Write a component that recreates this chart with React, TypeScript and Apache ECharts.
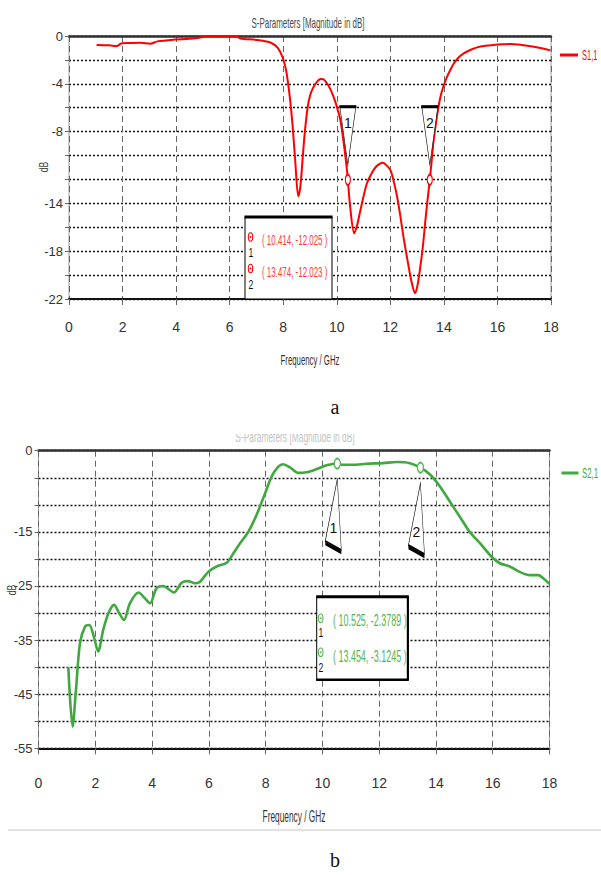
import React, { useEffect, useRef } from 'react';
import * as echarts from 'echarts';

// ---------- data ----------
const s11Freq = [1.03, 1.5, 1.78, 1.97, 2.3, 2.67, 3.04, 3.3, 3.93, 4.4, 4.8, 5.17, 5.8, 6.29, 6.4, 7.05, 7.54, 7.79, 7.98, 8.1, 8.16, 8.25, 8.35, 8.45, 8.56, 8.64, 8.72, 8.8, 8.91, 9.0, 9.1, 9.25, 9.4, 9.5, 9.63, 9.75, 9.88, 10.0, 10.13, 10.25, 10.38, 10.414, 10.5, 10.65, 10.75, 10.88, 11.0, 11.13, 11.3, 11.44, 11.6, 11.72, 11.85, 12.0, 12.12, 12.25, 12.37, 12.49, 12.62, 12.75, 12.85, 12.93, 13.02, 13.12, 13.22, 13.31, 13.4, 13.474, 13.55, 13.62, 13.75, 13.87, 14.0, 14.12, 14.25, 14.37, 14.55, 14.74, 15.0, 15.24, 15.55, 15.86, 16.2, 16.49, 16.9, 17.36, 17.7, 17.98];
const s11Db = [-0.75, -0.78, -0.84, -0.61, -0.58, -0.56, -0.64, -0.45, -0.3, -0.25, -0.17, -0.03, -0.03, -0.07, -0.2, -0.34, -0.56, -0.98, -1.8, -2.8, -3.6, -5.2, -7.5, -10.5, -13.4, -12.6, -10.4, -8.2, -6.0, -5.0, -4.4, -3.85, -3.6, -3.62, -3.95, -4.4, -5.1, -5.9, -7.0, -8.8, -11.2, -12.025, -14.3, -16.5, -15.9, -14.6, -13.4, -12.3, -11.5, -11.0, -10.7, -10.6, -10.8, -11.2, -12.1, -13.4, -15.0, -16.8, -18.5, -20.1, -21.1, -21.5, -20.8, -19.3, -17.5, -15.4, -13.5, -12.023, -10.3, -8.7, -6.6, -5.1, -4.1, -3.4, -2.8, -2.3, -1.8, -1.45, -1.15, -0.95, -0.82, -0.75, -0.7, -0.67, -0.75, -0.9, -1.05, -1.2];

const s21Freq = [1.05, 1.2, 1.32, 1.46, 1.64, 1.79, 1.95, 2.1, 2.28, 2.46, 2.66, 2.85, 3.01, 3.22, 3.52, 3.75, 3.93, 4.16, 4.4, 4.61, 4.77, 5.04, 5.27, 5.51, 5.69, 5.98, 6.27, 6.63, 6.86, 7.1, 7.39, 7.68, 7.98, 8.21, 8.44, 8.62, 8.86, 9.15, 9.44, 9.8, 10.15, 10.525, 10.73, 11.08, 11.56, 12.14, 12.61, 13.08, 13.454, 13.79, 14.14, 14.49, 14.84, 15.19, 15.55, 15.96, 16.25, 16.6, 16.95, 17.31, 17.6, 17.83, 17.99];
const s21Db = [-40.0, -51.0, -44.2, -35.6, -32.5, -32.2, -34.4, -37.1, -33.1, -30.1, -28.5, -30.1, -31.3, -28.2, -26.2, -27.3, -28.2, -25.4, -25.0, -25.7, -26.2, -24.4, -24.1, -24.5, -24.2, -22.4, -21.4, -20.7, -19.0, -17.1, -15.0, -11.9, -7.9, -4.8, -3.0, -2.5, -3.1, -4.1, -4.0, -3.4, -2.7, -2.3789, -2.6, -2.6, -2.4, -2.3, -2.1, -2.3, -3.1245, -4.4, -6.6, -9.4, -12.2, -15.0, -17.1, -19.6, -20.8, -21.4, -22.4, -23.0, -23.0, -23.8, -24.6];

const s11Markers = [
  { id: '1', f: 10.414, db: -12.025 },
  { id: '2', f: 13.474, db: -12.023 },
];
const s21Markers = [
  { id: '1', f: 10.525, db: -2.3789 },
  { id: '2', f: 13.454, db: -3.1245 },
];

const s11YLabels = [0, -4, -8, -14, -18, -22];
const s21YLabels = [0, -15, -25, -35, -45, -55];

const titleText = 'S-Parameters [Magnitude in dB]';
const xName = 'Frequency / GHz';
const yName = 'dB';
const s11Name = 'S1,1';
const s21Name = 'S2,1';

// ---------- styles ----------
const FONT = "'Liberation Sans', Arial, sans-serif";
const RED = '#ff0000';
const RED_TXT = '#ff3a3a';
const GREEN = '#3fa83f';
const GREEN_TXT = '#55b455';

function fmtMarker(m: { f: number; db: number }) {
  return `( ${m.f}, ${m.db} )`;
}

function buildOption() {
  const xAxisCommon = (grid: number, margin: number) => ({
    gridIndex: grid,
    type: 'value',
    min: 0,
    max: 18,
    interval: 2,
    position: 'bottom',
    axisLine: { show: true, onZero: false, lineStyle: { color: '#111', width: 2 } },
    axisTick: { show: true, length: 6, lineStyle: { color: '#666' } },
    axisLabel: { margin, fontSize: 14, color: '#333', fontFamily: FONT },
    splitLine: { show: true, lineStyle: { type: [6, 4], color: '#666', width: 1 } },
  });
  const topBorder = (grid: number) => ({
    gridIndex: grid,
    type: 'value',
    min: 0,
    max: 18,
    position: 'top',
    axisLine: { show: true, onZero: false, lineStyle: { color: '#333', width: 2.5 } },
    axisTick: { show: false },
    axisLabel: { show: false },
    splitLine: { show: false },
  });
  const yAxisCommon = (grid: number, min: number, interval: number, labels: number[]) => ({
    gridIndex: grid,
    type: 'value',
    min,
    max: 0,
    interval,
    axisLine: { show: false },
    axisTick: { show: true, length: 4, lineStyle: { color: '#666' } },
    axisLabel: {
      margin: 6,
      fontSize: 13,
      color: '#333',
      fontFamily: FONT,
      formatter: (v: number) => (labels.includes(Math.round(v)) ? String(Math.round(v)) : ''),
    },
    splitLine: { show: true, lineStyle: { type: [2, 2], color: '#111', width: 1.4 } },
  });

  const topMarkData: any[] = [];
  s11Markers.forEach((m) => {
    topMarkData.push({
      coord: [m.f, m.db],
      symbol: 'path://M0,0L16,0L8,58Z',
      symbolSize: [16, 58],
      symbolOffset: [0, -44],
      itemStyle: { color: '#fff', borderColor: '#000', borderWidth: 1 },
      label: { show: true, formatter: m.id, position: 'inside', offset: [0, -13], color: '#111', fontSize: 14, fontFamily: FONT },
    });
    topMarkData.push({
      coord: [m.f, m.db],
      symbol: 'rect',
      symbolSize: [17, 3],
      symbolOffset: [0, -73],
      itemStyle: { color: '#000' },
      label: { show: false },
    });
    topMarkData.push({
      coord: [m.f, m.db],
      symbol: 'circle',
      symbolSize: [5, 10],
      itemStyle: { color: '#fff', borderColor: RED, borderWidth: 1.5 },
      label: { show: false },
    });
  });

  const botMarkData: any[] = [];
  s21Markers.forEach((m) => {
    botMarkData.push({
      coord: [m.f, m.db],
      symbol: 'path://M12,0L0,62L16,71Z',
      symbolSize: [16, 71],
      symbolOffset: [-4, 51],
      itemStyle: { color: '#fff', borderColor: '#000', borderWidth: 1 },
      label: { show: true, formatter: m.id, position: 'inside', offset: [0, 13], color: '#111', fontSize: 14, fontFamily: FONT },
    });
    botMarkData.push({
      coord: [m.f, m.db],
      symbol: 'path://M0,62L16,71L16,74.5L0,65.5Z',
      symbolSize: [16, 12.5],
      symbolOffset: [-4, 84.5],
      itemStyle: { color: '#000' },
      label: { show: false },
    });
    botMarkData.push({
      coord: [m.f, m.db],
      symbol: 'circle',
      symbolSize: [6, 10],
      itemStyle: { color: '#fff', borderColor: GREEN_TXT, borderWidth: 1.5 },
      label: { show: false },
    });
  });

  const txt = (text: string, x: number, y: number, size: number, fill: string, sx: number, align = 'center', extra: any = {}) => ({
    type: 'text',
    x,
    y,
    scaleX: sx,
    z: 20,
    style: { text, fontSize: size, fontFamily: FONT, fill, textAlign: align, textVerticalAlign: 'middle' },
    ...extra,
  });

  const graphics: any[] = [];
  // titles
  graphics.push(txt(titleText, 308, 23, 15, '#4a4a4a', 0.53));
  graphics.push(txt(titleText, 295, 437, 15, '#c4c4c4', 0.56));
  graphics.push({ type: 'rect', z: 21, shape: { x: 200, y: 420, width: 200, height: 14 }, style: { fill: '#fff' } });
  // axis names
  graphics.push(txt(xName, 310, 360, 15, '#333', 0.52));
  graphics.push(txt(xName, 294, 816, 16, '#333', 0.52));
  graphics.push(txt(yName, 43, 167, 13, '#444', 0.66, 'center', { rotation: Math.PI / 2 }));
  graphics.push(txt(yName, 11, 590, 13, '#444', 0.66, 'center', { rotation: Math.PI / 2 }));
  // legends
  graphics.push({ type: 'line', z: 20, shape: { x1: 560, y1: 55, x2: 578, y2: 55 }, style: { stroke: RED, lineWidth: 3 } });
  graphics.push(txt(s11Name, 582, 55, 14, RED, 0.54, 'left'));
  graphics.push({ type: 'line', z: 20, shape: { x1: 561.5, y1: 473, x2: 578.5, y2: 473 }, style: { stroke: GREEN, lineWidth: 3 } });
  graphics.push(txt(s21Name, 582, 473, 14, GREEN, 0.56, 'left'));

  // top marker box
  graphics.push({ type: 'rect', z: 15, shape: { x: 245, y: 217, width: 87, height: 82 }, style: { fill: '#fff', stroke: '#000', lineWidth: 1 } });
  graphics.push({ type: 'rect', z: 16, shape: { x: 244.5, y: 215.5, width: 88, height: 3 }, style: { fill: '#000' } });
  s11Markers.forEach((m, i) => {
    graphics.push({ type: 'ellipse', z: 20, shape: { cx: 250.5, cy: 237 + i * 31.5, rx: 2.2, ry: 4.2 }, style: { fill: '#fff', stroke: RED, lineWidth: 1.1 } });
    graphics.push({ type: 'circle', z: 21, shape: { cx: 250.5, cy: 237 + i * 31.5, r: 0.9 }, style: { fill: RED } });
    graphics.push(txt(m.id, 251, 252 + i * 32, 13, '#111', 0.66));
    graphics.push(txt(fmtMarker(m), 262, 240 + i * 32, 15, RED_TXT, 0.53, 'left'));
  });

  // bottom marker box
  graphics.push({ type: 'rect', z: 15, shape: { x: 316.7, y: 596.7, width: 91.6, height: 83.3 }, style: { fill: '#fff', stroke: '#000', lineWidth: 1 } });
  graphics.push({ type: 'rect', z: 16, shape: { x: 316.2, y: 595.2, width: 92.6, height: 3 }, style: { fill: '#000' } });
  graphics.push({ type: 'rect', z: 16, shape: { x: 406.8, y: 596.7, width: 2, height: 83.3 }, style: { fill: '#000' } });
  graphics.push({ type: 'rect', z: 16, shape: { x: 316.2, y: 678.5, width: 92.6, height: 2.5 }, style: { fill: '#000' } });
  s21Markers.forEach((m, i) => {
    graphics.push({ type: 'ellipse', z: 20, shape: { cx: 320.7, cy: 618.3 + i * 34, rx: 2.3, ry: 4.3 }, style: { fill: '#fff', stroke: GREEN_TXT, lineWidth: 1.1 } });
    graphics.push({ type: 'circle', z: 21, shape: { cx: 320.7, cy: 618.3 + i * 34, r: 0.9 }, style: { fill: GREEN_TXT } });
    graphics.push(txt(m.id, 321, 632 + i * 35, 13, '#111', 0.66));
    graphics.push(txt(fmtMarker(m), 333, 620 + i * 36.7, 16, GREEN_TXT, 0.56, 'left'));
  });

  // sub-figure captions
  graphics.push({ type: 'text', x: 335, y: 407, z: 20, style: { text: 'a', fontSize: 20, fontFamily: "'Liberation Serif', serif", fill: '#111', textAlign: 'center', textVerticalAlign: 'middle' } });
  graphics.push({ type: 'line', z: 20, shape: { x1: 8, y1: 830, x2: 601, y2: 830 }, style: { stroke: '#e2e2e2', lineWidth: 2 } });
  graphics.push({ type: 'text', x: 335, y: 860, z: 20, style: { text: 'b', fontSize: 20, fontFamily: "'Liberation Serif', serif", fill: '#111', textAlign: 'center', textVerticalAlign: 'middle' } });

  return {
    animation: false,
    backgroundColor: '#fff',
    grid: [
      { left: 69, top: 36, width: 482, height: 263, show: true, borderColor: '#9a9a9a', borderWidth: 1 },
      { left: 38.5, top: 450.7, width: 511, height: 297.6, show: true, borderColor: '#9a9a9a', borderWidth: 1 },
    ],
    xAxis: [xAxisCommon(0, 21), topBorder(0), xAxisCommon(1, 28), topBorder(1)],
    yAxis: [yAxisCommon(0, -22, 2, s11YLabels), yAxisCommon(1, -55, 5, s21YLabels)],
    series: [
      {
        type: 'line',
        name: s11Name,
        xAxisIndex: 0,
        yAxisIndex: 0,
        data: s11Freq.map((f, i) => [f, s11Db[i]]),
        symbol: 'none',
        smooth: 0.3,
        lineStyle: { color: RED, width: 2 },
        itemStyle: { color: RED },
        markPoint: { data: topMarkData, silent: true },
      },
      {
        type: 'line',
        name: s21Name,
        xAxisIndex: 2,
        yAxisIndex: 1,
        data: s21Freq.map((f, i) => [f, s21Db[i]]),
        symbol: 'none',
        smooth: 0.3,
        lineStyle: { color: GREEN, width: 2.6 },
        itemStyle: { color: GREEN },
        markPoint: { data: botMarkData, silent: true },
      },
    ],
    graphic: graphics,
  };
}

export default function App() {
  const ref = useRef<HTMLDivElement>(null);
  useEffect(() => {
    if (!ref.current) return;
    const chart = echarts.init(ref.current, null, { renderer: 'svg', width: 601, height: 875 });
    chart.setOption(buildOption() as any);
    return () => chart.dispose();
  }, []);
  return (
    <div
      ref={ref}
      style={{ position: 'absolute', left: 0, top: 0, width: 601, height: 875, background: '#fff' }}
    />
  );
}
